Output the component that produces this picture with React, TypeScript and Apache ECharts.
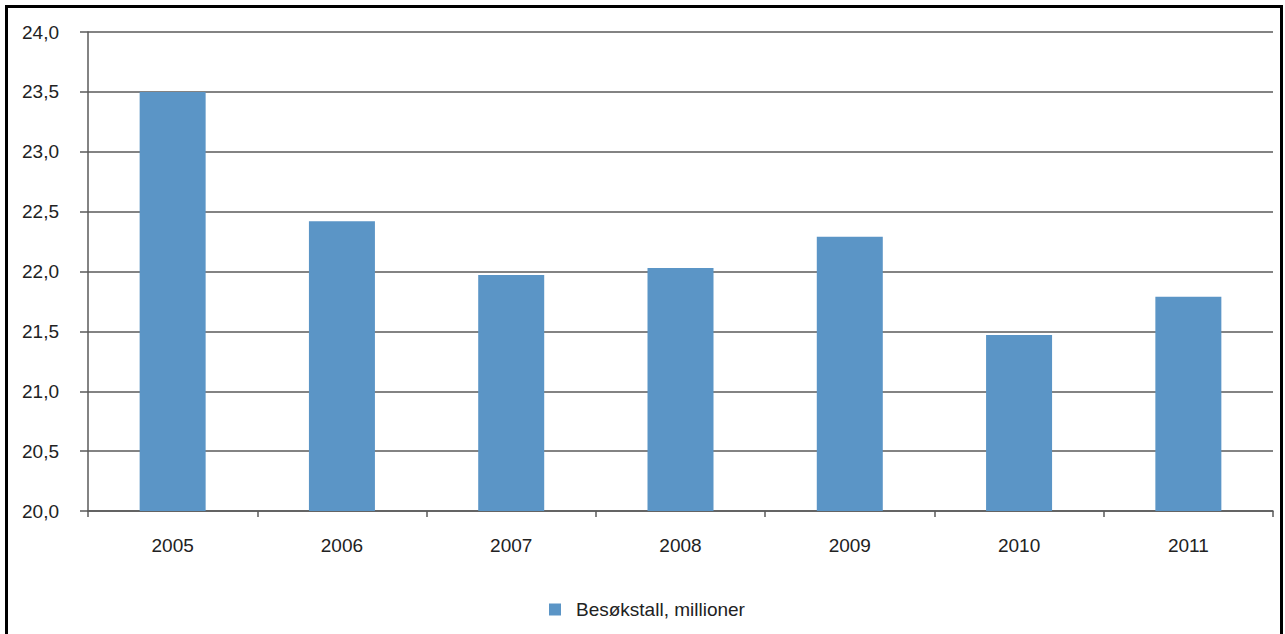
import React, { useEffect, useRef } from "react";
import * as echarts from "echarts";

// Annual visitor counts, millions
const years = ["2005", "2006", "2007", "2008", "2009", "2010", "2011"];
const visitors = [23.5, 22.42, 21.97, 22.03, 22.29, 21.47, 21.79];
const seriesName = "Besøkstall, millioner";

const FONT = "'Liberation Sans', Arial, sans-serif";
const TEXT = "#222";
const LINE = "#5a5a5a";
const BAR = "#5b95c6";

export default function App() {
  const ref = useRef<HTMLDivElement>(null);

  useEffect(() => {
    document.body.style.margin = "0";
    const chart = echarts.init(ref.current!, undefined, { renderer: "svg" });
    chart.setOption({
      animation: false,
      backgroundColor: "#fff",
      textStyle: { fontFamily: FONT },
      grid: { left: 88, right: 12, top: 32, bottom: 123 },
      graphic: [
        {
          type: "rect",
          shape: { x: 6.5, y: 6.5, width: 1275, height: 700 },
          style: { fill: "none", stroke: "#000", lineWidth: 3 },
          silent: true,
        },
      ],
      legend: {
        data: [seriesName],
        left: 544,
        top: 595,
        icon: "rect",
        itemWidth: 12,
        itemHeight: 12,
        textStyle: {
          fontFamily: FONT,
          fontSize: 19,
          color: TEXT,
          padding: [0, 0, 0, 10],
        },
      },
      xAxis: {
        type: "category",
        data: years,
        boundaryGap: true,
        axisLine: { show: true, lineStyle: { color: LINE, width: 1.5 } },
        axisTick: { show: true, length: 6, lineStyle: { color: LINE, width: 1.5 } },
        axisLabel: { color: TEXT, fontSize: 19, fontFamily: FONT, margin: 25 },
        splitLine: { show: false },
      },
      yAxis: {
        type: "value",
        min: 20,
        max: 24,
        interval: 0.5,
        axisLine: { show: true, lineStyle: { color: LINE, width: 1.5 } },
        axisTick: { show: true, length: 8, lineStyle: { color: LINE, width: 1.5 } },
        axisLabel: {
          color: TEXT,
          fontSize: 19,
          fontFamily: FONT,
          margin: 29,
          formatter: (v: number) => v.toFixed(1).replace(".", ","),
        },
        splitLine: { show: true, lineStyle: { color: LINE, width: 1.5 } },
      },
      series: [
        {
          name: seriesName,
          type: "bar",
          data: visitors,
          barWidth: 66,
          itemStyle: { color: BAR },
        },
      ],
    });
    return () => chart.dispose();
  }, []);

  return (
    <div
      ref={ref}
      style={{ position: "fixed", left: 0, top: 0, width: 1285, height: 634 }}
    />
  );
}
